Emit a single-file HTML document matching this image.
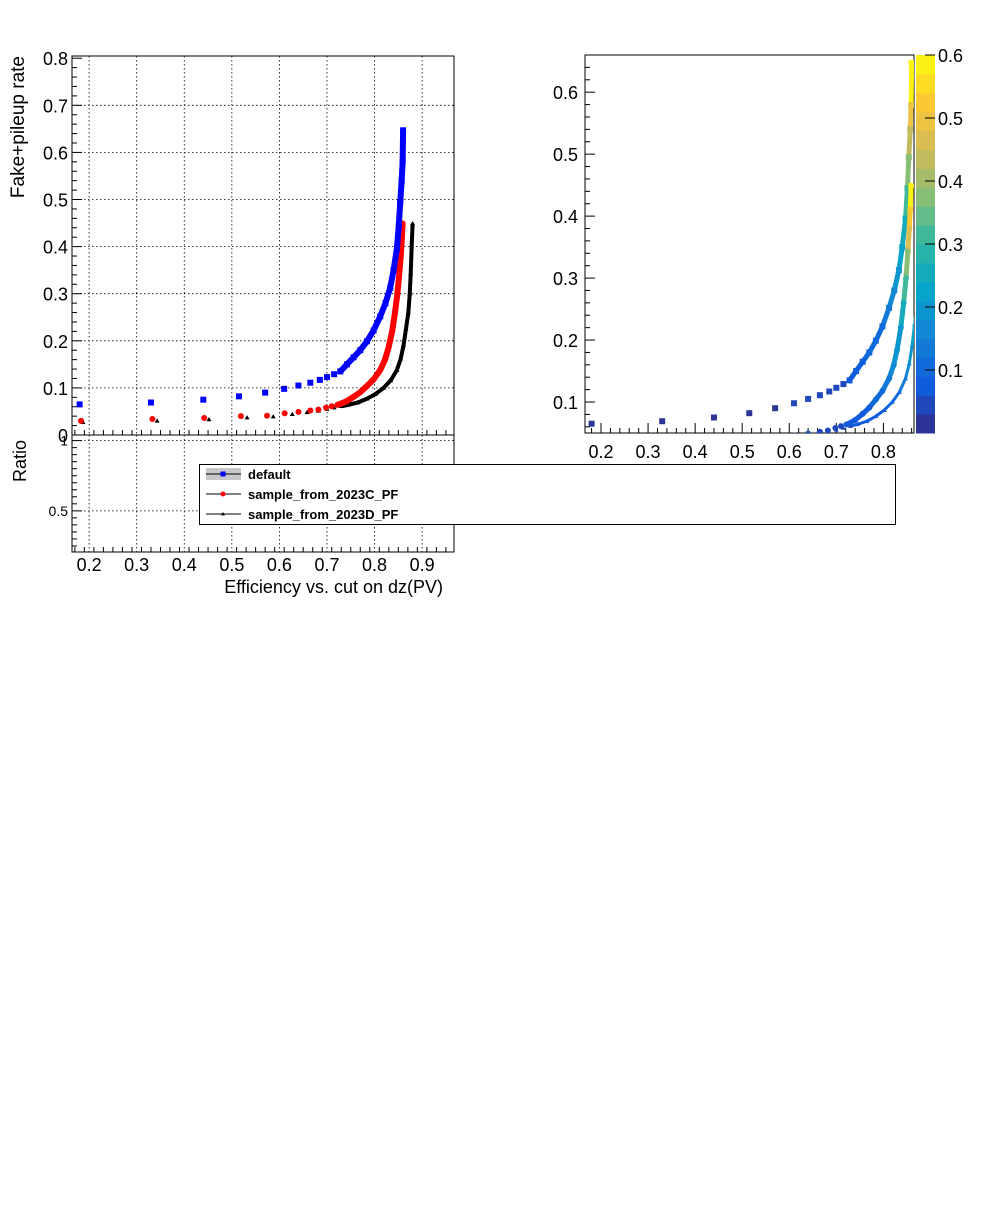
<!DOCTYPE html>
<html><head><meta charset="utf-8"><style>
html,body{margin:0;padding:0;background:#fff;}
svg{display:block;font-family:"Liberation Sans",sans-serif;}
</style></head><body>
<svg id="c" width="996" height="1222" viewBox="0 0 996 1222" xmlns="http://www.w3.org/2000/svg"></svg>
<script>
// ---- data ----
const effDefault = [0.18,0.33,0.44,0.515,0.57,0.61,0.64,0.665,0.685,0.70,0.715,0.728,0.742,0.756,0.770,0.784,0.798,0.812,0.823,0.833,0.840,0.847,0.851,0.854,0.857,0.859,0.860];
const rateDefault = [0.065,0.069,0.075,0.082,0.090,0.098,0.105,0.111,0.117,0.123,0.129,0.135,0.150,0.165,0.180,0.199,0.222,0.252,0.280,0.313,0.350,0.396,0.445,0.495,0.540,0.579,0.647];
const zDefault = [0.005,0.01,0.015,0.02,0.025,0.03,0.035,0.04,0.045,0.05,0.055,0.06,0.07,0.08,0.09,0.10,0.11,0.13,0.15,0.18,0.21,0.25,0.30,0.36,0.43,0.50,0.60];
const effC = [0.183,0.333,0.442,0.519,0.574,0.611,0.640,0.665,0.682,0.698,0.710,0.722,0.740,0.756,0.770,0.784,0.798,0.812,0.822,0.829,0.837,0.843,0.848,0.852,0.855,0.857,0.859];
const rateC = [0.030,0.034,0.036,0.040,0.041,0.046,0.049,0.052,0.054,0.058,0.061,0.064,0.071,0.081,0.091,0.104,0.118,0.138,0.160,0.184,0.220,0.260,0.300,0.343,0.380,0.411,0.449];
const zC = [0.005,0.01,0.015,0.02,0.025,0.03,0.035,0.04,0.045,0.05,0.055,0.06,0.065,0.07,0.08,0.09,0.10,0.12,0.15,0.18,0.20,0.25,0.30,0.38,0.46,0.52,0.60];
const effD = [0.187,0.343,0.452,0.532,0.587,0.627,0.658,0.682,0.700,0.715,0.730,0.745,0.765,0.784,0.802,0.819,0.834,0.847,0.855,0.861,0.866,0.871,0.874,0.876,0.878,0.880];
const rateD = [0.027,0.030,0.033,0.037,0.039,0.044,0.048,0.051,0.055,0.058,0.061,0.064,0.069,0.077,0.087,0.100,0.116,0.138,0.162,0.191,0.225,0.260,0.300,0.343,0.400,0.449];
const zD = [0.005,0.01,0.015,0.02,0.025,0.03,0.035,0.04,0.045,0.05,0.055,0.06,0.065,0.07,0.08,0.09,0.10,0.12,0.15,0.18,0.22,0.27,0.33,0.39,0.45,0.50];
const xTicksLeft = [0.2,0.3,0.4,0.5,0.6,0.7,0.8,0.9];
const yTicksLeft = [0,0.1,0.2,0.3,0.4,0.5,0.6,0.7,0.8];
const ratioTicks = [0.5,1];
const xTicksRight = [0.2,0.3,0.4,0.5,0.6,0.7,0.8];
const yTicksRight = [0.1,0.2,0.3,0.4,0.5,0.6];
const zTicks = [0.1,0.2,0.3,0.4,0.5,0.6];
const legendLabels = ["default","sample_from_2023C_PF","sample_from_2023D_PF"];

const NS="http://www.w3.org/2000/svg";
const svg=document.getElementById('c');
function mk(tag,attrs,parent){const e=document.createElementNS(NS,tag);for(const k in attrs)e.setAttribute(k,attrs[k]);(parent||svg).appendChild(e);return e;}
function fmt(v){return (Math.round(v*10)/10).toString();}

const L={x0:72,x1:454,y0:56,y1:435,xmin:0.164,xmax:0.967,ymin:0,ymax:0.8047};
const LX=v=>L.x0+(v-L.xmin)/(L.xmax-L.xmin)*(L.x1-L.x0);
const LY=v=>L.y1-(v-L.ymin)/(L.ymax-L.ymin)*(L.y1-L.y0);
const R={y0:435,y1:552,rmin:0.207,rmax:1.04};
const RY=v=>R.y1-(v-R.rmin)/(R.rmax-R.rmin)*(R.y1-R.y0);
const P={x0:585,x1:914,y0:55,y1:433,xmin:0.166,xmax:0.865,ymin:0.05,ymax:0.66};
const PX=v=>P.x0+(v-P.xmin)/(P.xmax-P.xmin)*(P.x1-P.x0);
const PY=v=>P.y1-(v-P.ymin)/(P.ymax-P.ymin)*(P.y1-P.y0);
const ZY=v=>P.y1-(v/0.6)*(P.y1-P.y0);

const st=[0,0.125,0.25,0.375,0.5,0.625,0.75,0.875,1];
const pr=[0.2082,0.0592,0.0780,0.0232,0.1802,0.5301,0.8186,0.9956,0.9764];
const pg=[0.1664,0.3599,0.5041,0.6419,0.7178,0.7492,0.7328,0.7862,0.9832];
const pb=[0.5293,0.8684,0.8385,0.7914,0.6425,0.4662,0.3499,0.1968,0.0539];
function pal(t){t=Math.max(0,Math.min(1,t));t=(Math.min(19,Math.floor(t*20))+0.5)/20;let i=0;while(i<7&&t>st[i+1])i++;const f=(t-st[i])/(st[i+1]-st[i]);
 const c=a=>Math.round(255*(a[i]+f*(a[i+1]-a[i])));return `rgb(${c(pr)},${c(pg)},${c(pb)})`;}

let g=mk('g',{});

xTicksLeft.forEach(v=>{mk('line',{x1:LX(v),x2:LX(v),y1:L.y0,y2:L.y1,stroke:'#000','stroke-width':0.8,'stroke-dasharray':'1.5,2.5'},g);
 mk('line',{x1:LX(v),x2:LX(v),y1:R.y0,y2:R.y1,stroke:'#000','stroke-width':0.8,'stroke-dasharray':'1.5,2.5'},g);});
yTicksLeft.forEach(v=>{if(v>0&&v<0.8)mk('line',{x1:L.x0,x2:L.x1,y1:LY(v),y2:LY(v),stroke:'#000','stroke-width':0.8,'stroke-dasharray':'1.5,2.5'},g);});
ratioTicks.forEach(v=>mk('line',{x1:L.x0,x2:L.x1,y1:RY(v),y2:RY(v),stroke:'#000','stroke-width':0.8,'stroke-dasharray':'1.5,2.5'},g));

let f1=mk('rect',{x:L.x0,y:L.y0,width:L.x1-L.x0,height:L.y1-L.y0,fill:'none',stroke:'#000','stroke-width':1});

let f2=mk('rect',{x:L.x0,y:R.y0,width:L.x1-L.x0,height:R.y1-R.y0,fill:'none',stroke:'#000','stroke-width':1});

let f3=mk('rect',{x:P.x0,y:P.y0,width:P.x1-P.x0,height:P.y1-P.y0,fill:'none',stroke:'#000','stroke-width':1});


let tk=mk('g',{stroke:'#000','stroke-width':1});

for(let v=0.17;v<=0.965;v+=0.02){const big=Math.abs(v*10-Math.round(v*10))<0.01;const len=big?10:5;
 mk('line',{x1:LX(v),x2:LX(v),y1:L.y1,y2:L.y1-len},tk);mk('line',{x1:LX(v),x2:LX(v),y1:R.y1,y2:R.y1-len},tk);}
for(let v=0;v<=0.801;v+=0.02){const big=Math.abs(v*10-Math.round(v*10))<0.01;const len=big?10:5;mk('line',{x1:L.x0,x2:L.x0+len,y1:LY(v),y2:LY(v)},tk);}
for(let v=0.25;v<=1.04;v+=0.05){const big=Math.abs(v*2-Math.round(v*2))<0.01;const len=big?10:5;mk('line',{x1:L.x0,x2:L.x0+len,y1:RY(v),y2:RY(v)},tk);}

yTicksLeft.forEach(v=>{let t=mk('text',{x:68,y:LY(v)+7,'font-size':18,'text-anchor':'end'});t.textContent=v===0?'0':fmt(v);
 });
ratioTicks.forEach(v=>{let t=mk('text',{x:68,y:RY(v)+5,'font-size':14,'text-anchor':'end'});t.textContent=v===1?'1':fmt(v);
 });
xTicksLeft.forEach(v=>{let t=mk('text',{x:LX(v),y:571,'font-size':18,'text-anchor':'middle'});t.textContent=fmt(v);
 });
let yt=mk('text',{x:0,y:0,'font-size':19,'text-anchor':'end',transform:'translate(24,56) rotate(-90)'});yt.textContent='Fake+pileup rate';

let rt=mk('text',{x:0,y:0,'font-size':18,'text-anchor':'end',transform:'translate(26,440) rotate(-90)'});rt.textContent='Ratio';

let xt=mk('text',{x:443,y:593,'font-size':18,'text-anchor':'end'});xt.textContent='Efficiency vs. cut on dz(PV)';


function marker(kind,x,y,col,s,parent){
 if(kind==='sq')return mk('rect',{x:x-s,y:y-s,width:2*s,height:2*s,fill:col},parent);
 if(kind==='ci')return mk('circle',{cx:x,cy:y,r:s,fill:col},parent);
 return mk('polygon',{points:`${x},${y-s} ${x-s},${y+s*0.7} ${x+s},${y+s*0.7}`,fill:col},parent);}

const series=[
 {e:effDefault,r:rateDefault,z:zDefault,col:'#0000ff',kind:'sq',s:3,w:6,dense:11,name:'default'},
 {e:effC,r:rateC,z:zC,col:'#ff0000',kind:'ci',s:3,w:6,dense:11,name:'2023C'},
 {e:effD,r:rateD,z:zD,col:'#000000',kind:'tr',s:2.5,w:4,dense:10,name:'2023D'}];
let cl=mk('clipPath',{id:'clipL'});mk('rect',{x:L.x0,y:L.y0,width:L.x1-L.x0,height:L.y1-L.y0},cl);
let cp=mk('clipPath',{id:'clipP'});mk('rect',{x:P.x0,y:P.y0,width:P.x1-P.x0,height:P.y1-P.y0},cp);

[...series].reverse().forEach(S=>{
 let sg=mk('g',{'clip-path':'url(#clipL)'});
 
 const pts=S.e.slice(S.dense).map((e,i)=>LX(e)+','+LY(S.r[i+S.dense])).join(' ');
 let pl=mk('polyline',{points:pts,fill:'none',stroke:S.col,'stroke-width':S.w,'stroke-linejoin':'round'},sg);
 
 S.e.forEach((e,i)=>{let m=marker(S.kind,LX(e),LY(S.r[i]),S.col,S.s,sg);
  });
});

let rtk=mk('g',{stroke:'#000','stroke-width':1});

for(let v=0.18;v<=0.865;v+=0.02){const big=Math.abs(v*10-Math.round(v*10))<0.01;mk('line',{x1:PX(v),x2:PX(v),y1:P.y1,y2:P.y1-(big?10:5)},rtk);}
for(let v=0.06;v<=0.66;v+=0.02){const big=Math.abs(v*10-Math.round(v*10))<0.01;mk('line',{x1:P.x0,x2:P.x0+(big?10:5),y1:PY(v),y2:PY(v)},rtk);}
xTicksRight.forEach(v=>{let t=mk('text',{x:PX(v),y:458,'font-size':18,'text-anchor':'middle'});t.textContent=fmt(v);
 });
yTicksRight.forEach(v=>{let t=mk('text',{x:578,y:PY(v)+7,'font-size':18,'text-anchor':'end'});t.textContent=fmt(v);
 });
series.forEach(S=>{
 let sg=mk('g',{'clip-path':'url(#clipP)'});
 
 for(let i=S.dense;i<S.e.length-1;i++){let l=mk('line',{x1:PX(S.e[i]),y1:PY(S.r[i]),x2:PX(S.e[i+1]),y2:PY(S.r[i+1]),stroke:pal(S.z[i+1]/0.6),'stroke-width':S.w-1,'stroke-linecap':'square'},sg);
  }
 S.e.forEach((e,i)=>{let m=marker(S.kind,PX(e),PY(S.r[i]),pal(S.z[i]/0.6),S.s,sg);
  });
});
let cb=mk('g',{});
for(let k=0;k<20;k++){const h=(P.y1-P.y0)/20;mk('rect',{x:916,y:P.y1-(k+1)*h,width:19,height:h+0.5,fill:pal((k+0.5)/20)},cb);}
zTicks.forEach(v=>{mk('line',{x1:925,x2:935,y1:ZY(v),y2:ZY(v),stroke:'#000'},cb);
 let t=mk('text',{x:938,y:ZY(v)+7,'font-size':18});t.textContent=fmt(v);
 });

let lg=mk('g',{});
mk('rect',{x:199.5,y:464.5,width:696,height:60,fill:'#fff',stroke:'#000','stroke-width':1},lg);
legendLabels.forEach((lab,i)=>{const y=474+i*20;const S=series[i];
 if(i===0)mk('rect',{x:206,y:y-6,width:35,height:12,fill:'#c8c8c8'},lg);
 mk('line',{x1:206,x2:241,y1:y,y2:y,stroke:'#000','stroke-width':1},lg);
 marker(S.kind,223,y,S.col,S.s-0.5,lg);
 let t=mk('text',{x:248,y:y+5,'font-size':13,'font-weight':'bold'},lg);t.textContent=lab;
 });
</script>
</body></html>
